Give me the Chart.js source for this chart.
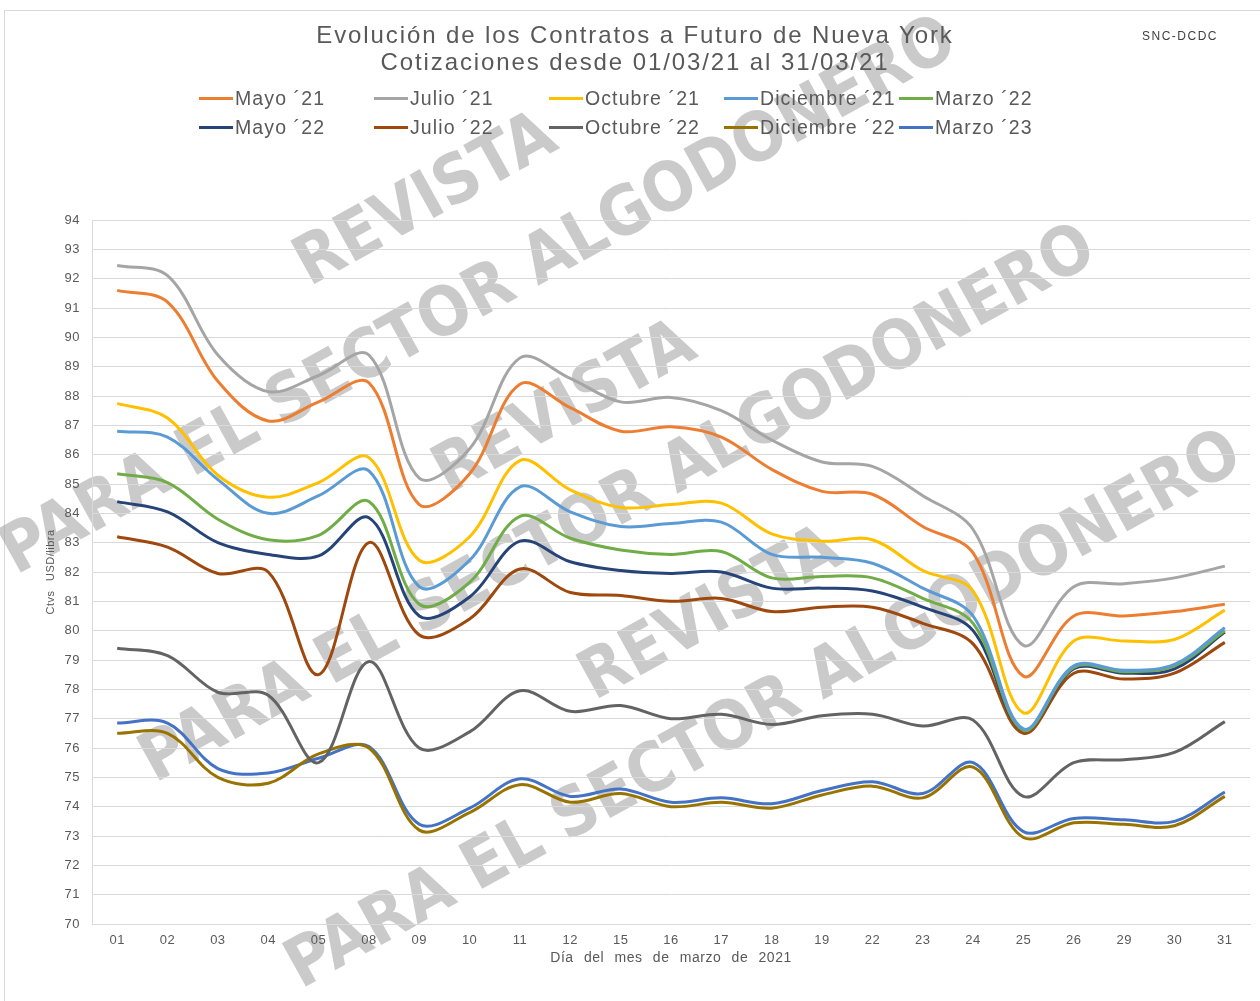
<!DOCTYPE html>
<html lang="es">
<head>
<meta charset="utf-8">
<title>Evolución de los Contratos a Futuro de Nueva York</title>
<script src="https://cdn.jsdelivr.net/npm/chart.js@4.4.1/dist/chart.umd.min.js"></script>
<style>
  body { margin: 0; background: #fff; font-family: "Liberation Sans", Arial, sans-serif; color: #595959; }
  #wrap { position: relative; width: 1260px; height: 1001px; overflow: hidden; }
  #frame { position: absolute; left: 4px; top: 10px; width: 1300px; height: 1100px; border: 1px solid #d9d9d9; }
  canvas { position: absolute; left: 0; top: 0; }
  #title { position: absolute; left: 0; width: 1270px; top: 21px; text-align: center; font-size: 24px; line-height: 27px; letter-spacing: 1.9px; }
  #source { position: absolute; left: 1142px; top: 29px; font-size: 12px; letter-spacing: 1.5px; color: #404040; }
  #legend { position: absolute; left: 199px; top: 84px; display: grid; grid-template-columns: repeat(5, 175px); grid-auto-rows: 29px; }
  .item { display: flex; align-items: center; font-size: 19.5px; letter-spacing: 1.1px; white-space: nowrap; }
  .swatch { width: 34px; height: 3px; margin-right: 2px; flex: none; }
</style>
</head>
<body>
<div id="wrap">
  <div id="frame"></div>
  <canvas id="futuresChart" width="1260" height="1001"></canvas>
  <div id="title">Evolución de los Contratos a Futuro de Nueva York<br>Cotizaciones desde 01/03/21 al 31/03/21</div>
  <div id="source">SNC-DCDC</div>
  <div id="legend"></div>
</div>
<script>
// Días de cotización de marzo 2021
const days = ['01', '02', '03', '04', '05', '08', '09', '10', '11', '12', '15', '16', '17', '18', '19', '22', '23', '24', '25', '26', '29', '30', '31'];

// Cotizaciones por contrato (ctvs USD/libra)
const mayo21 = [91.6, 91.2, 88.5, 87.15, 87.8, 88.45, 84.3, 85.35, 88.4, 87.6, 86.8, 86.95, 86.6, 85.5, 84.75, 84.65, 83.55, 82.65, 78.45, 80.5, 80.5, 80.65, 80.9];
const julio21 = [92.45, 92.1, 89.4, 88.15, 88.7, 89.4, 85.2, 86.2, 89.3, 88.6, 87.8, 87.95, 87.5, 86.5, 85.75, 85.6, 84.6, 83.45, 79.5, 81.5, 81.6, 81.8, 82.2];
const octubre21 = [87.75, 87.25, 85.3, 84.55, 85.05, 85.9, 82.4, 83.2, 85.8, 84.8, 84.2, 84.3, 84.35, 83.3, 83.05, 83.1, 82.05, 81.35, 77.2, 79.65, 79.65, 79.7, 80.7];
const diciembre21 = [86.8, 86.6, 85.15, 84.0, 84.6, 85.45, 81.5, 82.4, 84.9, 84.05, 83.55, 83.65, 83.7, 82.6, 82.5, 82.3, 81.45, 80.5, 76.65, 78.8, 78.65, 78.85, 80.1];
const marzo22 = [85.35, 85.05, 83.8, 83.1, 83.25, 84.4, 80.9, 81.65, 83.9, 83.15, 82.75, 82.6, 82.7, 81.8, 81.85, 81.8, 81.1, 80.25, 76.6, 78.75, 78.6, 78.8, 80.0];
const mayo22 = [84.4, 84.05, 83.0, 82.6, 82.55, 83.85, 80.5, 81.15, 83.05, 82.35, 82.05, 81.95, 82.0, 81.45, 81.45, 81.35, 80.8, 80.0, 76.6, 78.7, 78.55, 78.7, 79.95];
const julio22 = [83.2, 82.85, 81.95, 82.0, 78.5, 83.0, 79.85, 80.4, 82.1, 81.3, 81.2, 81.0, 81.1, 80.65, 80.8, 80.8, 80.25, 79.55, 76.5, 78.55, 78.35, 78.55, 79.6];
const octubre22 = [79.4, 79.15, 77.9, 77.8, 75.5, 78.95, 76.0, 76.55, 77.95, 77.25, 77.45, 77.0, 77.15, 76.8, 77.1, 77.15, 76.75, 76.95, 74.35, 75.5, 75.6, 75.85, 76.9];
const diciembre22 = [76.5, 76.5, 75.0, 74.8, 75.8, 76.0, 73.2, 73.8, 74.75, 74.15, 74.45, 74.0, 74.15, 73.95, 74.4, 74.7, 74.3, 75.35, 72.95, 73.45, 73.4, 73.35, 74.35];
const marzo23 = [76.85, 76.85, 75.3, 75.15, 75.65, 76.05, 73.4, 73.95, 74.95, 74.35, 74.6, 74.15, 74.3, 74.1, 74.55, 74.85, 74.45, 75.5, 73.15, 73.6, 73.55, 73.5, 74.5];

const contractNames = ['Mayo ´21', 'Julio ´21', 'Octubre ´21', 'Diciembre ´21', 'Marzo ´22',
                       'Mayo ´22', 'Julio ´22', 'Octubre ´22', 'Diciembre ´22', 'Marzo ´23'];
const contractValues = [mayo21, julio21, octubre21, diciembre21, marzo22,
                        mayo22, julio22, octubre22, diciembre22, marzo23];
const contractColors = ['#ed7d31', '#a5a5a5', '#ffc000', '#5b9bd5', '#70ad47',
                        '#264478', '#9e480e', '#636363', '#997300', '#4472c4'];

const datasets = contractNames.map((name, i) => ({
    label: name,
    data: contractValues[i],
    borderColor: contractColors[i],
    backgroundColor: contractColors[i],
    borderWidth: 3,
    pointRadius: 0,
    tension: 0.35,
    fill: false
}));

// Leyenda en cuadricula de 5 columnas
const legendBox = document.getElementById('legend');
datasets.forEach(ds => {
    const item = document.createElement('div');
    item.className = 'item';
    const swatch = document.createElement('span');
    swatch.className = 'swatch';
    swatch.style.background = ds.borderColor;
    item.appendChild(swatch);
    item.appendChild(document.createTextNode(ds.label));
    legendBox.appendChild(item);
});

// Marca de agua de la revista
const watermark = {
    id: 'watermark',
    beforeDraw(chart) {
        const ctx = chart.ctx;
        ctx.save();
        ctx.letterSpacing = '0px';
        ctx.wordSpacing = '0px';
        ctx.font = 'bold 100px "Liberation Sans Narrow", "DejaVu Sans Condensed", sans-serif';
        const size = 100 * 1080 / ctx.measureText('PARA EL SECTOR ALGODONERO').width;
        ctx.font = 'bold ' + size + 'px "Liberation Sans Narrow", "DejaVu Sans Condensed", sans-serif';
        ctx.fillStyle = 'rgba(150, 150, 150, 0.5)';
        ctx.textAlign = 'center';
        ctx.textBaseline = 'middle';
        [[453, 250], [592, 458], [738, 664]].forEach(([cx, cy]) => {
            ctx.save();
            ctx.translate(cx, cy);
            ctx.rotate(-29 * Math.PI / 180);
            ctx.fillText('REVISTA', 0, -55);
            ctx.fillText('PARA EL SECTOR ALGODONERO', 0, 55);
            ctx.restore();
        });
        ctx.restore();
        // espaciado de texto como en el original
        ctx.letterSpacing = '0.5px';
        ctx.wordSpacing = '6px';
    }
};

const ctx = document.getElementById('futuresChart').getContext('2d');
const futuresChart = new Chart(ctx, {
    type: 'line',
    data: { labels: days, datasets: datasets },
    options: {
        responsive: false,
        animation: false,
        devicePixelRatio: 1,
        layout: { padding: { top: 220, right: 10, bottom: 0, left: 0 } },
        plugins: {
            legend: { display: false },
            title: { display: false },
            tooltip: { enabled: false }
        },
        scales: {
            x: {
                offset: true,
                grid: { display: false, drawTicks: false },
                border: { color: '#d9d9d9' },
                ticks: { color: '#595959', font: { family: '"Liberation Sans", Arial', size: 13 }, padding: 9, maxRotation: 0, autoSkip: false },
                title: { display: true, text: 'Día del mes de marzo de 2021', color: '#595959',
                         font: { family: '"Liberation Sans", Arial', size: 14 }, padding: { bottom: 34 } },
                afterFit: scale => { scale.height = 77; }
            },
            y: {
                min: 70,
                max: 94,
                grid: { color: '#d9d9d9', drawTicks: false },
                border: { color: '#d9d9d9' },
                ticks: { stepSize: 1, color: '#595959', font: { family: '"Liberation Sans", Arial', size: 13 }, padding: 12 },
                title: { display: true, text: 'Ctvs USD/libra', color: '#595959',
                         font: { family: '"Liberation Sans", Arial', size: 11 }, padding: { top: 44 } },
                afterFit: scale => { scale.width = 92; }
            }
        }
    },
    plugins: [watermark]
});
</script>
</body>
</html>
